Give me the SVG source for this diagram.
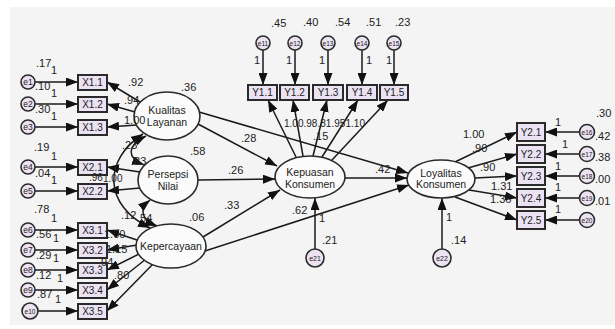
<svg xmlns="http://www.w3.org/2000/svg" width="615" height="329" viewBox="0 0 615 329">
<style>
.t{font-family:"Liberation Sans",Arial,sans-serif;font-size:11px;fill:#222}
.s{font-size:10px}
.bx{fill:#ebe3f3;stroke:#2a2a2a;stroke-width:2}
.bt{font-family:"Liberation Sans",Arial,sans-serif;font-size:10px;fill:#222;text-anchor:middle}
.er{fill:#ece2f2;stroke:#2a2a2a;stroke-width:1.6}
.et{font-family:"Liberation Sans",Arial,sans-serif;font-size:8.5px;fill:#222;text-anchor:middle}
.es{font-size:6.5px}
.lv{fill:#fbfbfb;stroke:#2a2a2a;stroke-width:1.6}
.lt{font-family:"Liberation Sans",Arial,sans-serif;font-size:10.5px;fill:#222;text-anchor:middle}
.c{fill:none;stroke:#1a1a1a;stroke-width:1.5}
</style>
<defs>
<marker id="a" markerUnits="userSpaceOnUse" markerWidth="12" markerHeight="9" refX="12" refY="4.5" orient="auto-start-reverse" viewBox="0 0 12 9"><path d="M0,0 L12,4.5 L0,9 Z" fill="#111"/></marker>
</defs>
<rect x="0" y="0" width="615" height="329" fill="#ffffff"/>
<rect x="10" y="7" width="605" height="318" fill="#f4f4f4"/>

<g id="connectors" class="c" marker-end="url(#a)">
<line x1="35" y1="82" x2="78" y2="82"/>
<line x1="35" y1="104" x2="78" y2="104"/>
<line x1="35" y1="127" x2="78" y2="127"/>
<line x1="35" y1="167" x2="78" y2="167"/>
<line x1="35" y1="191" x2="78" y2="191"/>
<line x1="35" y1="230" x2="78" y2="230"/>
<line x1="35" y1="250" x2="78" y2="250"/>
<line x1="35" y1="270" x2="78" y2="270"/>
<line x1="35" y1="290" x2="78" y2="290"/>
<line x1="38" y1="311" x2="78" y2="311"/>
<line x1="140" y1="102" x2="107" y2="82"/>
<line x1="135" y1="112" x2="107" y2="104"/>
<line x1="137" y1="125" x2="107" y2="127"/>
<line x1="140" y1="172" x2="107" y2="167"/>
<line x1="140" y1="188" x2="107" y2="191"/>
<line x1="137" y1="240" x2="107" y2="230"/>
<line x1="137" y1="245" x2="107" y2="250"/>
<line x1="141" y1="253" x2="107" y2="270"/>
<line x1="146" y1="259" x2="107" y2="290"/>
<line x1="153" y1="264" x2="107" y2="311"/>
<path d="M143,134 C103,160 103,205 150,228" marker-start="url(#a)"/>
<path d="M146,136 C126,146 127,158 144,165" marker-start="url(#a)"/>
<path d="M150,200 C138,210 142,220 157,226" marker-start="url(#a)"/>
<line x1="198" y1="124" x2="277" y2="166"/>
<line x1="199" y1="112" x2="408" y2="173"/>
<line x1="198" y1="180" x2="275" y2="179"/>
<line x1="203" y1="237" x2="280" y2="190"/>
<line x1="205" y1="251" x2="409" y2="185"/>
<line x1="345" y1="178" x2="407" y2="178"/>
<line x1="296" y1="157" x2="268" y2="100"/>
<line x1="303" y1="156" x2="293" y2="100"/>
<line x1="313" y1="156" x2="327" y2="100"/>
<line x1="322" y1="157" x2="358" y2="100"/>
<line x1="332" y1="160" x2="388" y2="100"/>
<line x1="455" y1="162" x2="517" y2="132"/>
<line x1="468" y1="168" x2="517" y2="154"/>
<line x1="475" y1="178" x2="517" y2="176"/>
<line x1="469" y1="190" x2="517" y2="198"/>
<line x1="455" y1="197" x2="517" y2="220"/>
<line x1="579" y1="132" x2="545" y2="132"/>
<line x1="579" y1="154" x2="545" y2="154"/>
<line x1="579" y1="176" x2="545" y2="176"/>
<line x1="579" y1="198" x2="545" y2="198"/>
<line x1="579" y1="220" x2="545" y2="220"/>
<line x1="315" y1="249" x2="315" y2="198"/>
<line x1="442" y1="249" x2="442" y2="198"/>
<line x1="263" y1="50" x2="263" y2="85"/>
<line x1="295" y1="50" x2="295" y2="85"/>
<line x1="328" y1="50" x2="328" y2="85"/>
<line x1="362" y1="50" x2="362" y2="85"/>
<line x1="394" y1="50" x2="394" y2="85"/>
</g>

<g id="X1.1"><rect class="bx" x="78" y="75" width="29" height="15"/><text class="bt" x="92.5" y="86">X1.1</text></g>
<g id="X1.2"><rect class="bx" x="78" y="97" width="29" height="15"/><text class="bt" x="92.5" y="108">X1.2</text></g>
<g id="X1.3"><rect class="bx" x="78" y="120" width="29" height="15"/><text class="bt" x="92.5" y="131">X1.3</text></g>
<g id="X2.1"><rect class="bx" x="78" y="160" width="29" height="15"/><text class="bt" x="92.5" y="171">X2.1</text></g>
<g id="X2.2"><rect class="bx" x="78" y="184" width="29" height="15"/><text class="bt" x="92.5" y="195">X2.2</text></g>
<g id="X3.1"><rect class="bx" x="78" y="223" width="29" height="15"/><text class="bt" x="92.5" y="234">X3.1</text></g>
<g id="X3.2"><rect class="bx" x="78" y="243" width="29" height="15"/><text class="bt" x="92.5" y="254">X3.2</text></g>
<g id="X3.3"><rect class="bx" x="78" y="263" width="29" height="15"/><text class="bt" x="92.5" y="274">X3.3</text></g>
<g id="X3.4"><rect class="bx" x="78" y="283" width="29" height="15"/><text class="bt" x="92.5" y="294">X3.4</text></g>
<g id="X3.5"><rect class="bx" x="78" y="304" width="29" height="15"/><text class="bt" x="92.5" y="315">X3.5</text></g>

<g id="e1"><circle class="er" cx="28" cy="82" r="7"/><text class="et" x="28" y="85">e1</text></g>
<g id="e2"><circle class="er" cx="28" cy="104" r="7"/><text class="et" x="28" y="107">e2</text></g>
<g id="e3"><circle class="er" cx="28" cy="127" r="7"/><text class="et" x="28" y="130">e3</text></g>
<g id="e4"><circle class="er" cx="28" cy="167" r="7"/><text class="et" x="28" y="170">e4</text></g>
<g id="e5"><circle class="er" cx="28" cy="191" r="7"/><text class="et" x="28" y="194">e5</text></g>
<g id="e6"><circle class="er" cx="28" cy="230" r="7"/><text class="et" x="28" y="233">e6</text></g>
<g id="e7"><circle class="er" cx="28" cy="250" r="7"/><text class="et" x="28" y="253">e7</text></g>
<g id="e8"><circle class="er" cx="28" cy="270" r="7"/><text class="et" x="28" y="273">e8</text></g>
<g id="e9"><circle class="er" cx="28" cy="290" r="7"/><text class="et" x="28" y="293">e9</text></g>
<g id="e10"><circle class="er" cx="30" cy="311" r="8"/><text class="et es" x="30" y="313.5">e10</text></g>

<g id="Y1.1"><rect class="bx" x="248" y="85" width="29" height="15"/><text class="bt" x="262.5" y="96">Y1.1</text></g>
<g id="Y1.2"><rect class="bx" x="280" y="85" width="29" height="15"/><text class="bt" x="294.5" y="96">Y1.2</text></g>
<g id="Y1.3"><rect class="bx" x="313" y="85" width="30" height="15"/><text class="bt" x="328" y="96">Y1.3</text></g>
<g id="Y1.4"><rect class="bx" x="347" y="85" width="30" height="15"/><text class="bt" x="362" y="96">Y1.4</text></g>
<g id="Y1.5"><rect class="bx" x="380" y="85" width="28" height="15"/><text class="bt" x="394" y="96">Y1.5</text></g>

<g id="e11"><circle class="er" cx="263" cy="43" r="7"/><text class="et es" x="263" y="45.5">e11</text></g>
<g id="e12"><circle class="er" cx="295" cy="43" r="7"/><text class="et es" x="295" y="45.5">e12</text></g>
<g id="e13"><circle class="er" cx="328" cy="43" r="7"/><text class="et es" x="328" y="45.5">e13</text></g>
<g id="e14"><circle class="er" cx="362" cy="43" r="7"/><text class="et es" x="362" y="45.5">e14</text></g>
<g id="e15"><circle class="er" cx="394" cy="43" r="7"/><text class="et es" x="394" y="45.5">e15</text></g>

<g id="Y2.1"><rect class="bx" x="517" y="123" width="28" height="18"/><text class="bt" x="531" y="136">Y2.1</text></g>
<g id="Y2.2"><rect class="bx" x="517" y="145" width="28" height="18"/><text class="bt" x="531" y="158">Y2.2</text></g>
<g id="Y2.3"><rect class="bx" x="517" y="167" width="28" height="18"/><text class="bt" x="531" y="180">Y2.3</text></g>
<g id="Y2.4"><rect class="bx" x="517" y="189" width="28" height="18"/><text class="bt" x="531" y="202">Y2.4</text></g>
<g id="Y2.5"><rect class="bx" x="517" y="211" width="28" height="18"/><text class="bt" x="531" y="224">Y2.5</text></g>

<g id="e16"><circle class="er" cx="587" cy="132" r="7.5"/><text class="et es" x="587" y="134.5">e16</text></g>
<g id="e17"><circle class="er" cx="587" cy="154" r="7.5"/><text class="et es" x="587" y="156.5">e17</text></g>
<g id="e18"><circle class="er" cx="587" cy="176" r="7.5"/><text class="et es" x="587" y="178.5">e18</text></g>
<g id="e19"><circle class="er" cx="587" cy="198" r="7.5"/><text class="et es" x="587" y="200.5">e19</text></g>
<g id="e20"><circle class="er" cx="587" cy="220" r="7.5"/><text class="et es" x="587" y="222.5">e20</text></g>

<g id="e21"><circle class="er" cx="315" cy="258" r="9"/><text class="et" x="315" y="260.5" style="font-size:7px">e21</text></g>
<g id="e22"><circle class="er" cx="442" cy="258" r="9"/><text class="et" x="442" y="260.5" style="font-size:7px">e22</text></g>

<g id="KualitasLayanan"><ellipse class="lv" cx="167" cy="116" rx="33" ry="24"/><text class="lt" x="167" y="114">Kualitas</text><text class="lt" x="167" y="126">Layanan</text></g>
<g id="PersepsiNilai"><ellipse class="lv" cx="168" cy="180" rx="30" ry="24"/><text class="lt" x="168" y="178">Persepsi</text><text class="lt" x="168" y="190">Nilai</text></g>
<g id="Kepercayaan"><ellipse class="lv" cx="171" cy="246" rx="35" ry="22"/><text class="lt" x="171" y="250">Kepercayaan</text></g>
<g id="KepuasanKonsumen"><ellipse class="lv" cx="310" cy="177" rx="35" ry="21"/><text class="lt" x="310" y="176">Kepuasan</text><text class="lt" x="310" y="188">Konsumen</text></g>
<g id="LoyalitasKonsumen"><ellipse class="lv" cx="441" cy="179" rx="34" ry="19"/><text class="lt" x="441" y="177">Loyalitas</text><text class="lt" x="441" y="188">Konsumen</text></g>

<g id="labels" class="t">
<text x="36" y="67">.17</text><text x="51" y="74">1</text>
<text x="35" y="90">.10</text><text x="51" y="97">1</text>
<text x="35" y="113">.30</text><text x="51" y="120">1</text>
<text x="128" y="86">.92</text><text x="124" y="104">.94</text><text x="124" y="124">1.00</text>
<text x="181" y="91">.36</text>
<text x="34" y="151">.19</text><text x="51" y="160">1</text>
<text x="35" y="177">.04</text><text x="51" y="184">1</text>
<text class="s" x="89" y="181">.96</text><text class="s" x="103" y="182">1.00</text>
<text x="190" y="155">.58</text>
<text x="122" y="149">.23</text><text x="131" y="165">.83</text>
<text x="34" y="213">.78</text><text x="51" y="222">1</text>
<text x="36" y="238">.56</text><text x="53" y="242">1</text>
<text x="36" y="259">.29</text><text x="53" y="262">1</text>
<text x="36" y="279">.12</text><text x="57" y="282">1</text>
<text x="37" y="298">.87</text><text x="55" y="303">1</text>
<text x="121" y="219">.12</text><text x="137" y="222">.54</text>
<text x="189" y="221">.06</text>
<text x="104" y="238">1.00</text><text x="106" y="253">1.15</text><text x="98" y="266">.94</text><text x="114" y="279">.80</text>
<text x="241" y="142">.28</text><text x="228" y="174">.26</text><text x="224" y="209">.33</text>
<text x="292" y="214">.62</text><text x="319" y="222">1</text><text x="322" y="244">.21</text>
<text x="375" y="173">.42</text>
<g class="s"><text x="284" y="127">1.00</text><text x="303.5" y="127">.98</text><text x="317.5" y="127">.81</text><text x="331.5" y="127">.95</text><text x="345.5" y="127">1.10</text></g>
<text x="313" y="140">.15</text>
<text x="271" y="27">.45</text><text x="303" y="26">.40</text><text x="335" y="26">.54</text><text x="366" y="26">.51</text><text x="395" y="26">.23</text>
<text x="254" y="64">1</text><text x="286" y="64">1</text><text x="319" y="64">1</text><text x="366" y="64">1</text><text x="386" y="64">1</text>
<text x="463" y="138">1.00</text><text x="472" y="152">.90</text><text x="480" y="171">.90</text><text x="491" y="190">1.31</text><text x="490" y="203">1.36</text>
<text x="555" y="126">1</text><text x="562" y="148">1</text><text x="555" y="170">1</text><text x="555" y="191">1</text><text x="555" y="213">1</text>
<text x="596" y="117">.30</text><text x="595" y="140">.42</text><text x="595" y="161">.38</text><text x="595" y="183">.00</text><text x="595" y="205">.01</text>
<text x="446" y="221">1</text><text x="451" y="244">.14</text>
</g>
</svg>
